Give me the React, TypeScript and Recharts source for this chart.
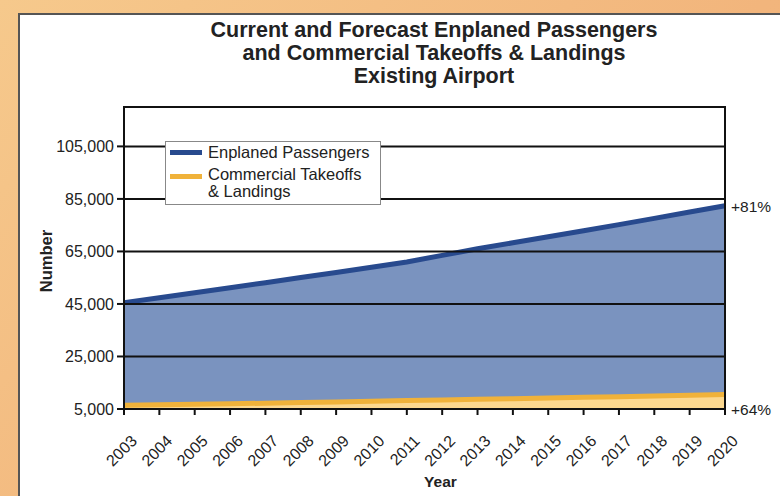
import {
  AreaChart,
  Area,
  XAxis,
  YAxis,
  ReferenceLine,
  ReferenceArea,
} from "recharts";

const years = [
  2003, 2004, 2005, 2006, 2007, 2008, 2009, 2010, 2011, 2012, 2013, 2014, 2015,
  2016, 2017, 2018, 2019, 2020,
];
const passengers = [
  45500, 47400, 49300, 51200, 53100, 55100, 57000, 59000, 61000, 63500, 66000,
  68300, 70600, 72900, 75200, 77600, 80000, 82400,
];
const operations = [
  6400, 6600, 6800, 7000, 7200, 7450, 7700, 7950, 8200, 8450, 8700, 8950, 9200,
  9450, 9700, 9950, 10200, 10500,
];
const yTicks = [5000, 25000, 45000, 65000, 85000, 105000];
const endLabels = { passengers: "+81%", operations: "+64%" };
const seriesNames = { passengers: "Enplaned Passengers", operations: ["Commercial Takeoffs", "& Landings"] };
const titleLines = [
  "Current and Forecast Enplaned Passengers",
  "and Commercial Takeoffs & Landings",
  "Existing Airport",
];

const data = years.map((year, i) => ({
  year,
  passengers: passengers[i],
  operations: operations[i],
}));

const FONT = '"Liberation Sans", Arial, Helvetica, sans-serif';
const BLUE = "#284a8e";
const BLUE_FILL = "#7a93bf";
const ORANGE = "#f0b23a";
const ORANGE_FILL = "#fcd88f";

function YearTick({ x, y, payload }: any) {
  return (
    <g transform={`translate(${x + 14},${y + 25})`}>
      <text
        textAnchor="end"
        transform="rotate(-45)"
        fontSize={16}
        fill="#222"
        fontFamily={FONT}
      >
        {payload.value}
      </text>
    </g>
  );
}

const endLabel = (text: string) => (props: any) => {
  const { x, y, index } = props;
  if (index !== years.length - 1) return null;
  return (
    <text x={x + 6} y={y} dy={6} fontSize={15.5} fill="#222" fontFamily={FONT}>
      {text}
    </text>
  );
};

function LegendBox() {
  return (
    <div
      style={{
        position: "absolute",
        left: 165,
        top: 141,
        width: 214,
        height: 62,
        background: "#fff",
        border: "1px solid #888",
        fontFamily: FONT,
        fontSize: 16.5,
        lineHeight: "17px",
        color: "#222",
      }}
    >
      <div style={{ position: "absolute", left: 4, top: 8, width: 32, height: 5, background: BLUE }} />
      <div style={{ position: "absolute", left: 42, top: 2, whiteSpace: "nowrap" }}>
        {seriesNames.passengers}
      </div>
      <div style={{ position: "absolute", left: 4, top: 32, width: 32, height: 5, background: ORANGE }} />
      <div style={{ position: "absolute", left: 42, top: 24, whiteSpace: "nowrap" }}>
        <div>{seriesNames.operations[0]}</div>
        <div>{seriesNames.operations[1]}</div>
      </div>
    </div>
  );
}

export default function App() {
  return (
    <div
      style={{
        position: "absolute",
        left: 0,
        top: 0,
        width: 780,
        height: 496,
        overflow: "hidden",
        background: "linear-gradient(135deg, #f6c98c 0%, #f2b57c 60%, #f0b07a 100%)",
      }}
    >
      <div
        style={{
          position: "absolute",
          left: 18,
          top: 13,
          width: 770,
          height: 490,
          background: "#fff",
          borderLeft: "2px solid #555",
          borderTop: "2px solid #555",
        }}
      />
      <div
        style={{
          position: "absolute",
          left: 0,
          top: 19,
          width: 868,
          textAlign: "center",
          fontFamily: FONT,
          fontWeight: "bold",
          fontSize: 21.5,
          lineHeight: "23px",
          color: "#222",
        }}
      >
        {titleLines.map((t) => (
          <div key={t}>{t}</div>
        ))}
      </div>
      <div style={{ position: "absolute", left: 0, top: 0 }}>
        <AreaChart
          width={780}
          height={496}
          data={data}
          margin={{ top: 107, right: 55, bottom: 0, left: 0 }}
        >
          <XAxis
            type="number"
            dataKey="year"
            domain={[2003, 2020]}
            ticks={years}
            interval={0}
            height={87}
            tick={<YearTick />}
            tickSize={6}
            tickLine={{ stroke: "#111", strokeWidth: 2 }}
            axisLine={{ stroke: "#111", strokeWidth: 2 }}
            label={{
              value: "Year",
              position: "insideBottom",
              offset: 9,
              dx: 16,
              fontFamily: FONT,
              fontWeight: "bold",
              fontSize: 15.5,
              fill: "#222",
            }}
          />
          <YAxis
            domain={[5000, 120000]}
            ticks={yTicks}
            interval={0}
            allowDataOverflow
            width={124}
            tickSize={7}
            tickMargin={3}
            tickFormatter={(v) => v.toLocaleString("en-US")}
            tick={{ fontFamily: FONT, fontSize: 16, fill: "#222" }}
            tickLine={{ stroke: "#111", strokeWidth: 2 }}
            axisLine={{ stroke: "#111", strokeWidth: 2 }}
            label={{
              content: ({ viewBox }: any) => (
                <text
                  x={viewBox.x + 46}
                  y={viewBox.y + viewBox.height / 2 + 3}
                  transform={`rotate(-90, ${viewBox.x + 46}, ${viewBox.y + viewBox.height / 2 + 3})`}
                  textAnchor="middle"
                  dominantBaseline="central"
                  fontFamily={FONT}
                  fontWeight="bold"
                  fontSize={16.5}
                  fill="#222"
                >
                  Number
                </text>
              ),
            }}
          />
          <Area
            type="linear"
            dataKey="passengers"
            stroke={BLUE}
            strokeWidth={5}
            fill={BLUE_FILL}
            fillOpacity={1}
            isAnimationActive={false}
            label={endLabel(endLabels.passengers)}
          />
          <Area
            type="linear"
            dataKey="operations"
            stroke={ORANGE}
            strokeWidth={5}
            fill={ORANGE_FILL}
            fillOpacity={1}
            isAnimationActive={false}
          />
          {yTicks.slice(1).map((v) => (
            <ReferenceLine key={v} y={v} stroke="#111" strokeWidth={2} />
          ))}
          <ReferenceArea
            x1={2003}
            x2={2020}
            y1={5000}
            y2={120000}
            fill="none"
            stroke="#111"
            strokeWidth={2}
          />
          <ReferenceLine
            y={5000}
            stroke="none"
            label={{
              value: endLabels.operations,
              position: "right",
              offset: 6,
              fill: "#222",
              fontSize: 15.5,
              fontFamily: FONT,
            }}
          />
        </AreaChart>
      </div>
      <LegendBox />
    </div>
  );
}
